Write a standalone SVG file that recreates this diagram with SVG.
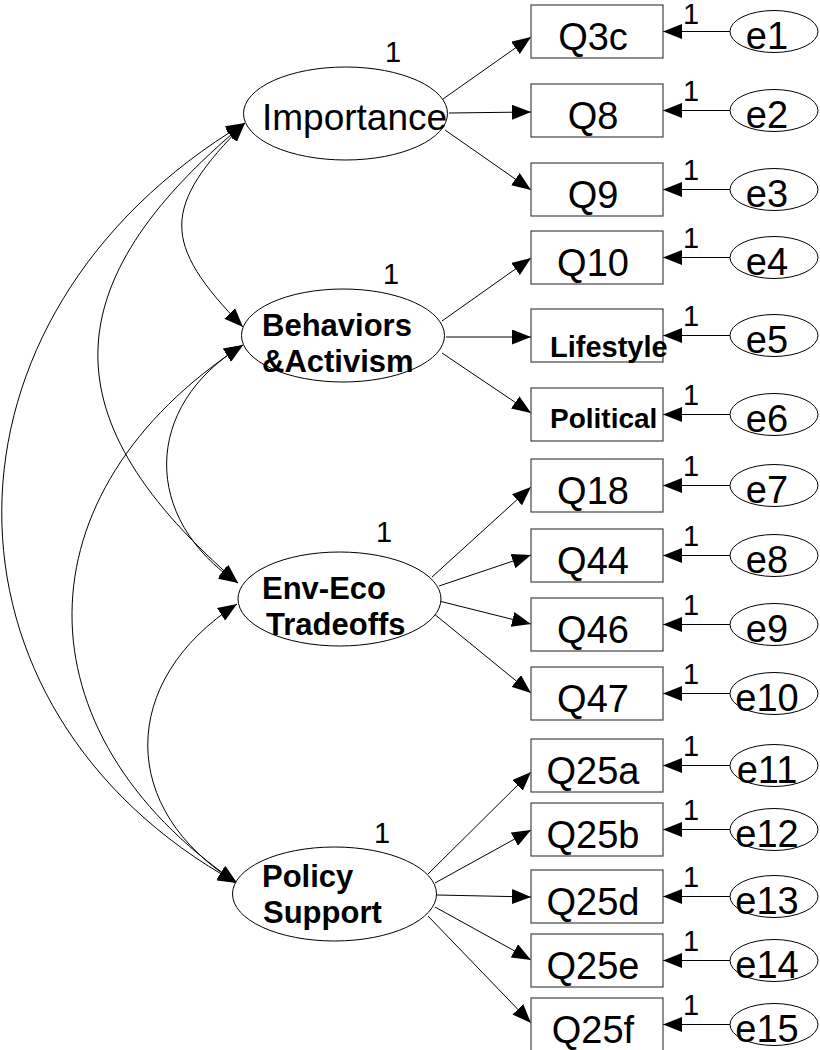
<svg xmlns="http://www.w3.org/2000/svg" width="820" height="1050" viewBox="0 0 820 1050">
<style>
.lat{fill:#fff;stroke:#000;stroke-width:1}
.box{fill:#fff;stroke:#444;stroke-width:1.2}
.err{fill:#fff;stroke:#000;stroke-width:1}
.c{fill:none;stroke:#000;stroke-width:1}
.t{font-family:"Liberation Sans",Arial,sans-serif;fill:#000}
.obs{font-size:38px;text-anchor:middle}
.bold{font-weight:bold}
.one{font-size:29px;text-anchor:middle}
</style>
<defs>
<marker id="ah" viewBox="0 0 19 15" refX="19" refY="7.5" markerWidth="19" markerHeight="15" markerUnits="userSpaceOnUse" orient="auto-start-reverse">
<path d="M0,0 L19,7.5 L0,15 z" fill="#000"/>
</marker>
</defs>

<g id="connectors">
<path class="c" d="M245,123 C161,207 161,243 243,327" marker-start="url(#ah)" marker-end="url(#ah)"/>
<path class="c" d="M245,123 C50,285 50,421 238,583" marker-start="url(#ah)" marker-end="url(#ah)"/>
<path class="c" d="M245,123 C-78,316 -78,709 237,883" marker-start="url(#ah)" marker-end="url(#ah)"/>
<path class="c" d="M243,345 C142,406 142,519 238,583" marker-start="url(#ah)" marker-end="url(#ah)"/>
<path class="c" d="M243,345 C16,493 16,732 237,883" marker-start="url(#ah)" marker-end="url(#ah)"/>
<path class="c" d="M237,604 C118,681 118,810 237,883" marker-start="url(#ah)" marker-end="url(#ah)"/>
<line class="c" x1="443" y1="99" x2="531" y2="37" marker-end="url(#ah)"/>
<line class="c" x1="449" y1="113" x2="531" y2="112" marker-end="url(#ah)"/>
<line class="c" x1="445" y1="130" x2="531" y2="190" marker-end="url(#ah)"/>
<line class="c" x1="442" y1="321" x2="531" y2="258" marker-end="url(#ah)"/>
<line class="c" x1="446" y1="337" x2="531" y2="337" marker-end="url(#ah)"/>
<line class="c" x1="442" y1="353" x2="531" y2="413" marker-end="url(#ah)"/>
<line class="c" x1="432" y1="577" x2="531" y2="487" marker-end="url(#ah)"/>
<line class="c" x1="439" y1="586" x2="531" y2="555" marker-end="url(#ah)"/>
<line class="c" x1="439" y1="601" x2="531" y2="624" marker-end="url(#ah)"/>
<line class="c" x1="433" y1="613" x2="531" y2="693" marker-end="url(#ah)"/>
<line class="c" x1="428" y1="874" x2="531" y2="772" marker-end="url(#ah)"/>
<line class="c" x1="435" y1="883" x2="531" y2="830" marker-end="url(#ah)"/>
<line class="c" x1="437" y1="895" x2="531" y2="897" marker-end="url(#ah)"/>
<line class="c" x1="435" y1="907" x2="531" y2="960" marker-end="url(#ah)"/>
<line class="c" x1="428" y1="916" x2="531" y2="1023" marker-end="url(#ah)"/>
<line class="c" x1="730" y1="31.5" x2="663" y2="31.5" marker-end="url(#ah)"/>
<line class="c" x1="730" y1="110.5" x2="663" y2="110.5" marker-end="url(#ah)"/>
<line class="c" x1="730" y1="189.5" x2="663" y2="189.5" marker-end="url(#ah)"/>
<line class="c" x1="730" y1="257.5" x2="663" y2="257.5" marker-end="url(#ah)"/>
<line class="c" x1="730" y1="335.5" x2="663" y2="335.5" marker-end="url(#ah)"/>
<line class="c" x1="730" y1="414.5" x2="663" y2="414.5" marker-end="url(#ah)"/>
<line class="c" x1="730" y1="485.5" x2="663" y2="485.5" marker-end="url(#ah)"/>
<line class="c" x1="730" y1="555.5" x2="663" y2="555.5" marker-end="url(#ah)"/>
<line class="c" x1="730" y1="624.5" x2="663" y2="624.5" marker-end="url(#ah)"/>
<line class="c" x1="730" y1="693.5" x2="663" y2="693.5" marker-end="url(#ah)"/>
<line class="c" x1="730" y1="765.5" x2="663" y2="765.5" marker-end="url(#ah)"/>
<line class="c" x1="730" y1="829.5" x2="663" y2="829.5" marker-end="url(#ah)"/>
<line class="c" x1="730" y1="896.5" x2="663" y2="896.5" marker-end="url(#ah)"/>
<line class="c" x1="730" y1="960.5" x2="663" y2="960.5" marker-end="url(#ah)"/>
<line class="c" x1="730" y1="1024.5" x2="663" y2="1024.5" marker-end="url(#ah)"/>
<g class="t one">
<text x="691" y="24">1</text>
<text x="691" y="101">1</text>
<text x="691" y="180">1</text>
<text x="691" y="248">1</text>
<text x="691" y="326">1</text>
<text x="691" y="405">1</text>
<text x="691" y="476">1</text>
<text x="691" y="546">1</text>
<text x="691" y="615">1</text>
<text x="691" y="684">1</text>
<text x="691" y="756">1</text>
<text x="691" y="820">1</text>
<text x="691" y="887">1</text>
<text x="691" y="951">1</text>
<text x="691" y="1015">1</text>
</g>
</g>

<g id="Importance">
<ellipse class="lat" cx="345.5" cy="113.5" rx="102" ry="46.5"/>
<text class="t" x="262" y="130" font-size="37">Importance</text>
<text class="t one" x="393" y="62">1</text>
</g>
<g id="Behaviors">
<ellipse class="lat" cx="343" cy="335.5" rx="101.5" ry="46.5"/>
<text class="t bold" x="262" y="336" font-size="31">Behaviors</text>
<text class="t bold" x="262" y="372" font-size="31">&amp;Activism</text>
<text class="t one" x="391" y="284">1</text>
</g>
<g id="EnvEco">
<ellipse class="lat" cx="339.5" cy="599" rx="101.5" ry="47"/>
<text class="t bold" x="262" y="599" font-size="31">Env-Eco</text>
<text class="t bold" x="266" y="635" font-size="31">Tradeoffs</text>
<text class="t one" x="384" y="542">1</text>
</g>
<g id="Policy">
<ellipse class="lat" cx="334.5" cy="894" rx="102" ry="47"/>
<text class="t bold" x="262" y="887" font-size="31">Policy</text>
<text class="t bold" x="263" y="923" font-size="31">Support</text>
<text class="t one" x="382" y="843">1</text>
</g>

<g id="Q3c"><rect class="box" x="531" y="5" width="132" height="53"/><text class="t obs" x="593" y="49.5">Q3c</text></g>
<g id="Q8"><rect class="box" x="531" y="84" width="132" height="53"/><text class="t obs" x="593" y="128.5">Q8</text></g>
<g id="Q9"><rect class="box" x="531" y="163" width="132" height="53"/><text class="t obs" x="593" y="207.5">Q9</text></g>
<g id="Q10"><rect class="box" x="531" y="231" width="132" height="53"/><text class="t obs" x="593" y="275.5">Q10</text></g>
<g id="Lifestyle"><rect class="box" x="531" y="309" width="132" height="53"/><text class="t bold" x="550" y="357" font-size="29">Lifestyle</text></g>
<g id="Political"><rect class="box" x="531" y="388" width="132" height="53"/><text class="t bold" x="550" y="428" font-size="28">Political</text></g>
<g id="Q18"><rect class="box" x="531" y="459" width="132" height="53"/><text class="t obs" x="593" y="503.5">Q18</text></g>
<g id="Q44"><rect class="box" x="531" y="529" width="132" height="53"/><text class="t obs" x="593" y="573.5">Q44</text></g>
<g id="Q46"><rect class="box" x="531" y="598" width="132" height="53"/><text class="t obs" x="593" y="642.5">Q46</text></g>
<g id="Q47"><rect class="box" x="531" y="667" width="132" height="53"/><text class="t obs" x="593" y="711.5">Q47</text></g>
<g id="Q25a"><rect class="box" x="531" y="739" width="132" height="53"/><text class="t obs" x="593" y="783.5">Q25a</text></g>
<g id="Q25b"><rect class="box" x="531" y="803" width="132" height="53"/><text class="t obs" x="593" y="847.5">Q25b</text></g>
<g id="Q25d"><rect class="box" x="531" y="870" width="132" height="53"/><text class="t obs" x="593" y="914.5">Q25d</text></g>
<g id="Q25e"><rect class="box" x="531" y="934" width="132" height="53"/><text class="t obs" x="593" y="978.5">Q25e</text></g>
<g id="Q25f"><rect class="box" x="531" y="998" width="132" height="53"/><text class="t obs" x="593" y="1042.5">Q25f</text></g>

<g id="e1"><ellipse class="err" cx="774" cy="31.5" rx="44" ry="21"/><text class="t obs" x="767" y="48.5">e1</text></g>
<g id="e2"><ellipse class="err" cx="774" cy="110.5" rx="44" ry="21"/><text class="t obs" x="767" y="127.5">e2</text></g>
<g id="e3"><ellipse class="err" cx="774" cy="189.5" rx="44" ry="21"/><text class="t obs" x="767" y="206.5">e3</text></g>
<g id="e4"><ellipse class="err" cx="774" cy="257.5" rx="44" ry="21"/><text class="t obs" x="767" y="274.5">e4</text></g>
<g id="e5"><ellipse class="err" cx="774" cy="335.5" rx="44" ry="21"/><text class="t obs" x="767" y="352.5">e5</text></g>
<g id="e6"><ellipse class="err" cx="774" cy="414.5" rx="44" ry="21"/><text class="t obs" x="767" y="431.5">e6</text></g>
<g id="e7"><ellipse class="err" cx="774" cy="485.5" rx="44" ry="21"/><text class="t obs" x="767" y="502.5">e7</text></g>
<g id="e8"><ellipse class="err" cx="774" cy="555.5" rx="44" ry="21"/><text class="t obs" x="767" y="572.5">e8</text></g>
<g id="e9"><ellipse class="err" cx="774" cy="624.5" rx="44" ry="21"/><text class="t obs" x="767" y="641.5">e9</text></g>
<g id="e10"><ellipse class="err" cx="774" cy="693.5" rx="44" ry="21"/><text class="t obs" x="767" y="710.5">e10</text></g>
<g id="e11"><ellipse class="err" cx="774" cy="765.5" rx="44" ry="21"/><text class="t obs" x="767" y="782.5">e11</text></g>
<g id="e12"><ellipse class="err" cx="774" cy="829.5" rx="44" ry="21"/><text class="t obs" x="767" y="846.5">e12</text></g>
<g id="e13"><ellipse class="err" cx="774" cy="896.5" rx="44" ry="21"/><text class="t obs" x="767" y="913.5">e13</text></g>
<g id="e14"><ellipse class="err" cx="774" cy="960.5" rx="44" ry="21"/><text class="t obs" x="767" y="977.5">e14</text></g>
<g id="e15"><ellipse class="err" cx="774" cy="1024.5" rx="44" ry="21"/><text class="t obs" x="767" y="1041.5">e15</text></g>
</svg>
